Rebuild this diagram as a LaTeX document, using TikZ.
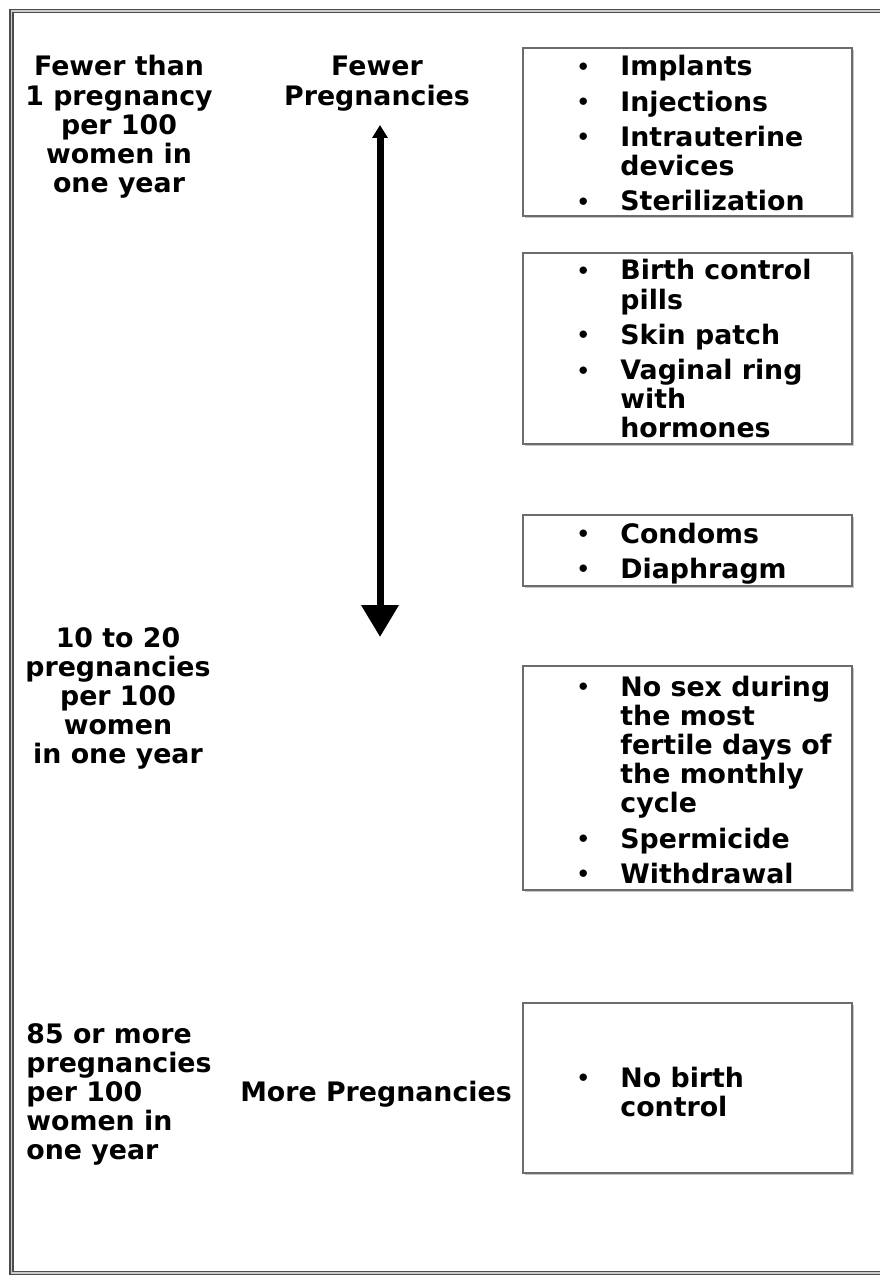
\documentclass[tikz,border=0pt]{standalone}
\usepackage{fontspec}
\setmainfont{DejaVu Sans}
\usetikzlibrary{arrows.meta}
\newcommand\bul{\makebox[18.5pt][l]{\makebox[0pt][c]{\raisebox{0.7pt}{\fontsize{10.5}{10.5}\selectfont\textbullet}}}}
\newcommand\ind{\hspace*{18.5pt}}
\begin{document}
\begin{tikzpicture}[x=0.5pt,y=-0.5pt,
  txt/.style={inner sep=0pt, font=\fontsize{13.4}{14.6}\selectfont\bfseries},
  boxst/.style={draw=gray!85!black, fill=white, line width=0.7pt},
  shadowst/.style={fill=gray!45},
  framest/.style={draw=black!70, double=gray!40, double distance=0.7pt, line width=0.8pt},
  bigarrow/.style={line width=3.5pt, {Triangle[width=7.5pt,length=6.5pt]}-{Triangle[width=18pt,length=16pt]}}]
\useasboundingbox[fill=white] (0,0) rectangle (880,1277);
% outer frame
\draw[framest] (880,11) -- (11.5,11) -- (11.5,1273) -- (880,1273);

% boxes
\foreach \ya/\yb in {48/216, 253/444, 515/586, 666/890, 1003/1173}{
  \fill[shadowst] (525,\ya+2) rectangle (854,\yb+2);
  \draw[boxst] (523,\ya) rectangle (852,\yb);
}

% left texts
\node[txt, anchor=base] (lefttop) at (119,76) {\begin{tabular}[t]{@{}c@{}}Fewer than\\1 pregnancy\\per 100\\women in\\one year\end{tabular}};
\node[txt, anchor=base] (leftmid) at (118,647) {\begin{tabular}[t]{@{}c@{}}10 to 20\\pregnancies\\per 100\\women\\in one year\end{tabular}};
\node[txt, anchor=base west] (leftbot) at (26,1043) {\begin{tabular}[t]{@{}l@{}}85 or more\\pregnancies\\per 100\\women in\\one year\end{tabular}};

% middle texts
\node[txt, anchor=base] (fewer) at (377,76) {\begin{tabular}[t]{@{}c@{}}Fewer\\Pregnancies\end{tabular}};
\node[txt, anchor=base] (more) at (376,1101) {More Pregnancies};

% arrow
\coordinate (atop) at (380,125);
\coordinate (abot) at (380,637);
\draw[bigarrow] (atop) -- (abot);

% lists
\node[txt, anchor=base west] (list1) at (583,76) {\begin{tabular}[t]{@{}l@{}}
\bul Implants\\[3pt]
\bul Injections\\[3pt]
\bul Intrauterine\\
\ind devices\\[3pt]
\bul Sterilization
\end{tabular}};
\node[txt, anchor=base west] (list2) at (583,280) {\begin{tabular}[t]{@{}l@{}}
\bul Birth control\\
\ind pills\\[3pt]
\bul Skin patch\\[3pt]
\bul Vaginal ring\\
\ind with\\
\ind hormones
\end{tabular}};
\node[txt, anchor=base west] (list3) at (583,543) {\begin{tabular}[t]{@{}l@{}}
\bul Condoms\\[3pt]
\bul Diaphragm
\end{tabular}};
\node[txt, anchor=base west] (list4) at (583,696) {\begin{tabular}[t]{@{}l@{}}
\bul No sex during\\
\ind the most\\
\ind fertile days of\\
\ind the monthly\\
\ind cycle\\[3pt]
\bul Spermicide\\[3pt]
\bul Withdrawal
\end{tabular}};
\node[txt, anchor=base west] (list5) at (583,1087) {\begin{tabular}[t]{@{}l@{}}
\bul No birth\\
\ind control
\end{tabular}};
\end{tikzpicture}
\end{document}
